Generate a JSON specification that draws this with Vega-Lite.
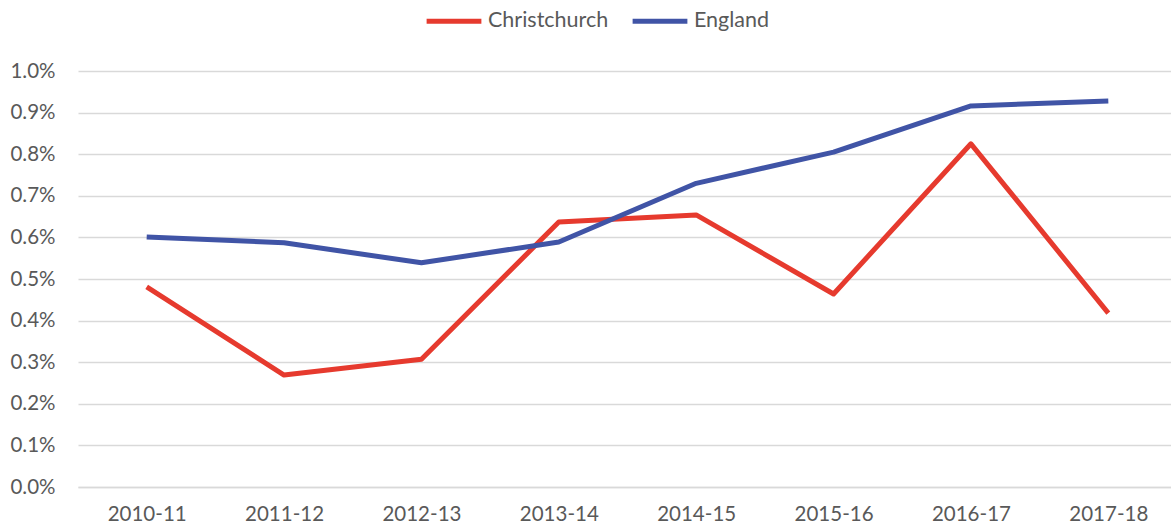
{
  "$schema": "https://vega.github.io/schema/vega-lite/v6.json",
  "autosize": "none",
  "width": 1099,
  "height": 416,
  "padding": {"left": 78, "top": 71, "right": 0, "bottom": 45},
  "background": "white",
  "data": {"values": [
    {"year": "2010-11", "series": "Christchurch", "v": 0.00481},
    {"year": "2011-12", "series": "Christchurch", "v": 0.00269},
    {"year": "2012-13", "series": "Christchurch", "v": 0.00307},
    {"year": "2013-14", "series": "Christchurch", "v": 0.00637},
    {"year": "2014-15", "series": "Christchurch", "v": 0.00654},
    {"year": "2015-16", "series": "Christchurch", "v": 0.00464},
    {"year": "2016-17", "series": "Christchurch", "v": 0.00825},
    {"year": "2017-18", "series": "Christchurch", "v": 0.00418},
    {"year": "2010-11", "series": "England", "v": 0.00601},
    {"year": "2011-12", "series": "England", "v": 0.00587},
    {"year": "2012-13", "series": "England", "v": 0.00539},
    {"year": "2013-14", "series": "England", "v": 0.00589},
    {"year": "2014-15", "series": "England", "v": 0.00730},
    {"year": "2015-16", "series": "England", "v": 0.00805},
    {"year": "2016-17", "series": "England", "v": 0.00916},
    {"year": "2017-18", "series": "England", "v": 0.00928}
  ]},
  "mark": {"type": "line", "strokeWidth": 5, "strokeCap": "butt", "strokeJoin": "round"},
  "encoding": {
    "x": {"field": "year", "type": "ordinal", "title": null,
      "scale": {"type": "point", "padding": 0.5},
      "axis": {"labelAngle": 0, "domain": true, "domainColor": "#d9d9d9", "domainWidth": 1.5, "ticks": false, "grid": false, "labelPadding": 17}},
    "y": {"field": "v", "type": "quantitative", "title": null,
      "scale": {"domain": [0, 0.01], "nice": false},
      "axis": {"format": ".1%", "values": [0, 0.001, 0.002, 0.003, 0.004, 0.005, 0.006, 0.007, 0.008, 0.009, 0.01], "domain": false, "ticks": false, "gridColor": "#d9d9d9", "gridWidth": 1.5, "labelPadding": 23}},
    "color": {"field": "series", "type": "nominal", "title": null,
      "scale": {"domain": ["Christchurch", "England"], "range": ["#e63a2e", "#4054a6"]},
      "legend": {"orient": "none", "legendX": 346, "legendY": -80, "direction": "horizontal", "symbolType": "stroke", "symbolStrokeWidth": 5, "symbolSize": 3000, "symbolStrokeCap": "round", "columnPadding": 13, "labelOffset": 4}}
  },
  "config": {
    "view": {"stroke": null},
    "font": "Lato",
    "axis": {"labelFont": "Lato", "labelFontSize": 20.5, "labelColor": "#595959"},
    "legend": {"labelFont": "Lato", "labelFontSize": 21.5, "labelColor": "#595959"}
  }
}
